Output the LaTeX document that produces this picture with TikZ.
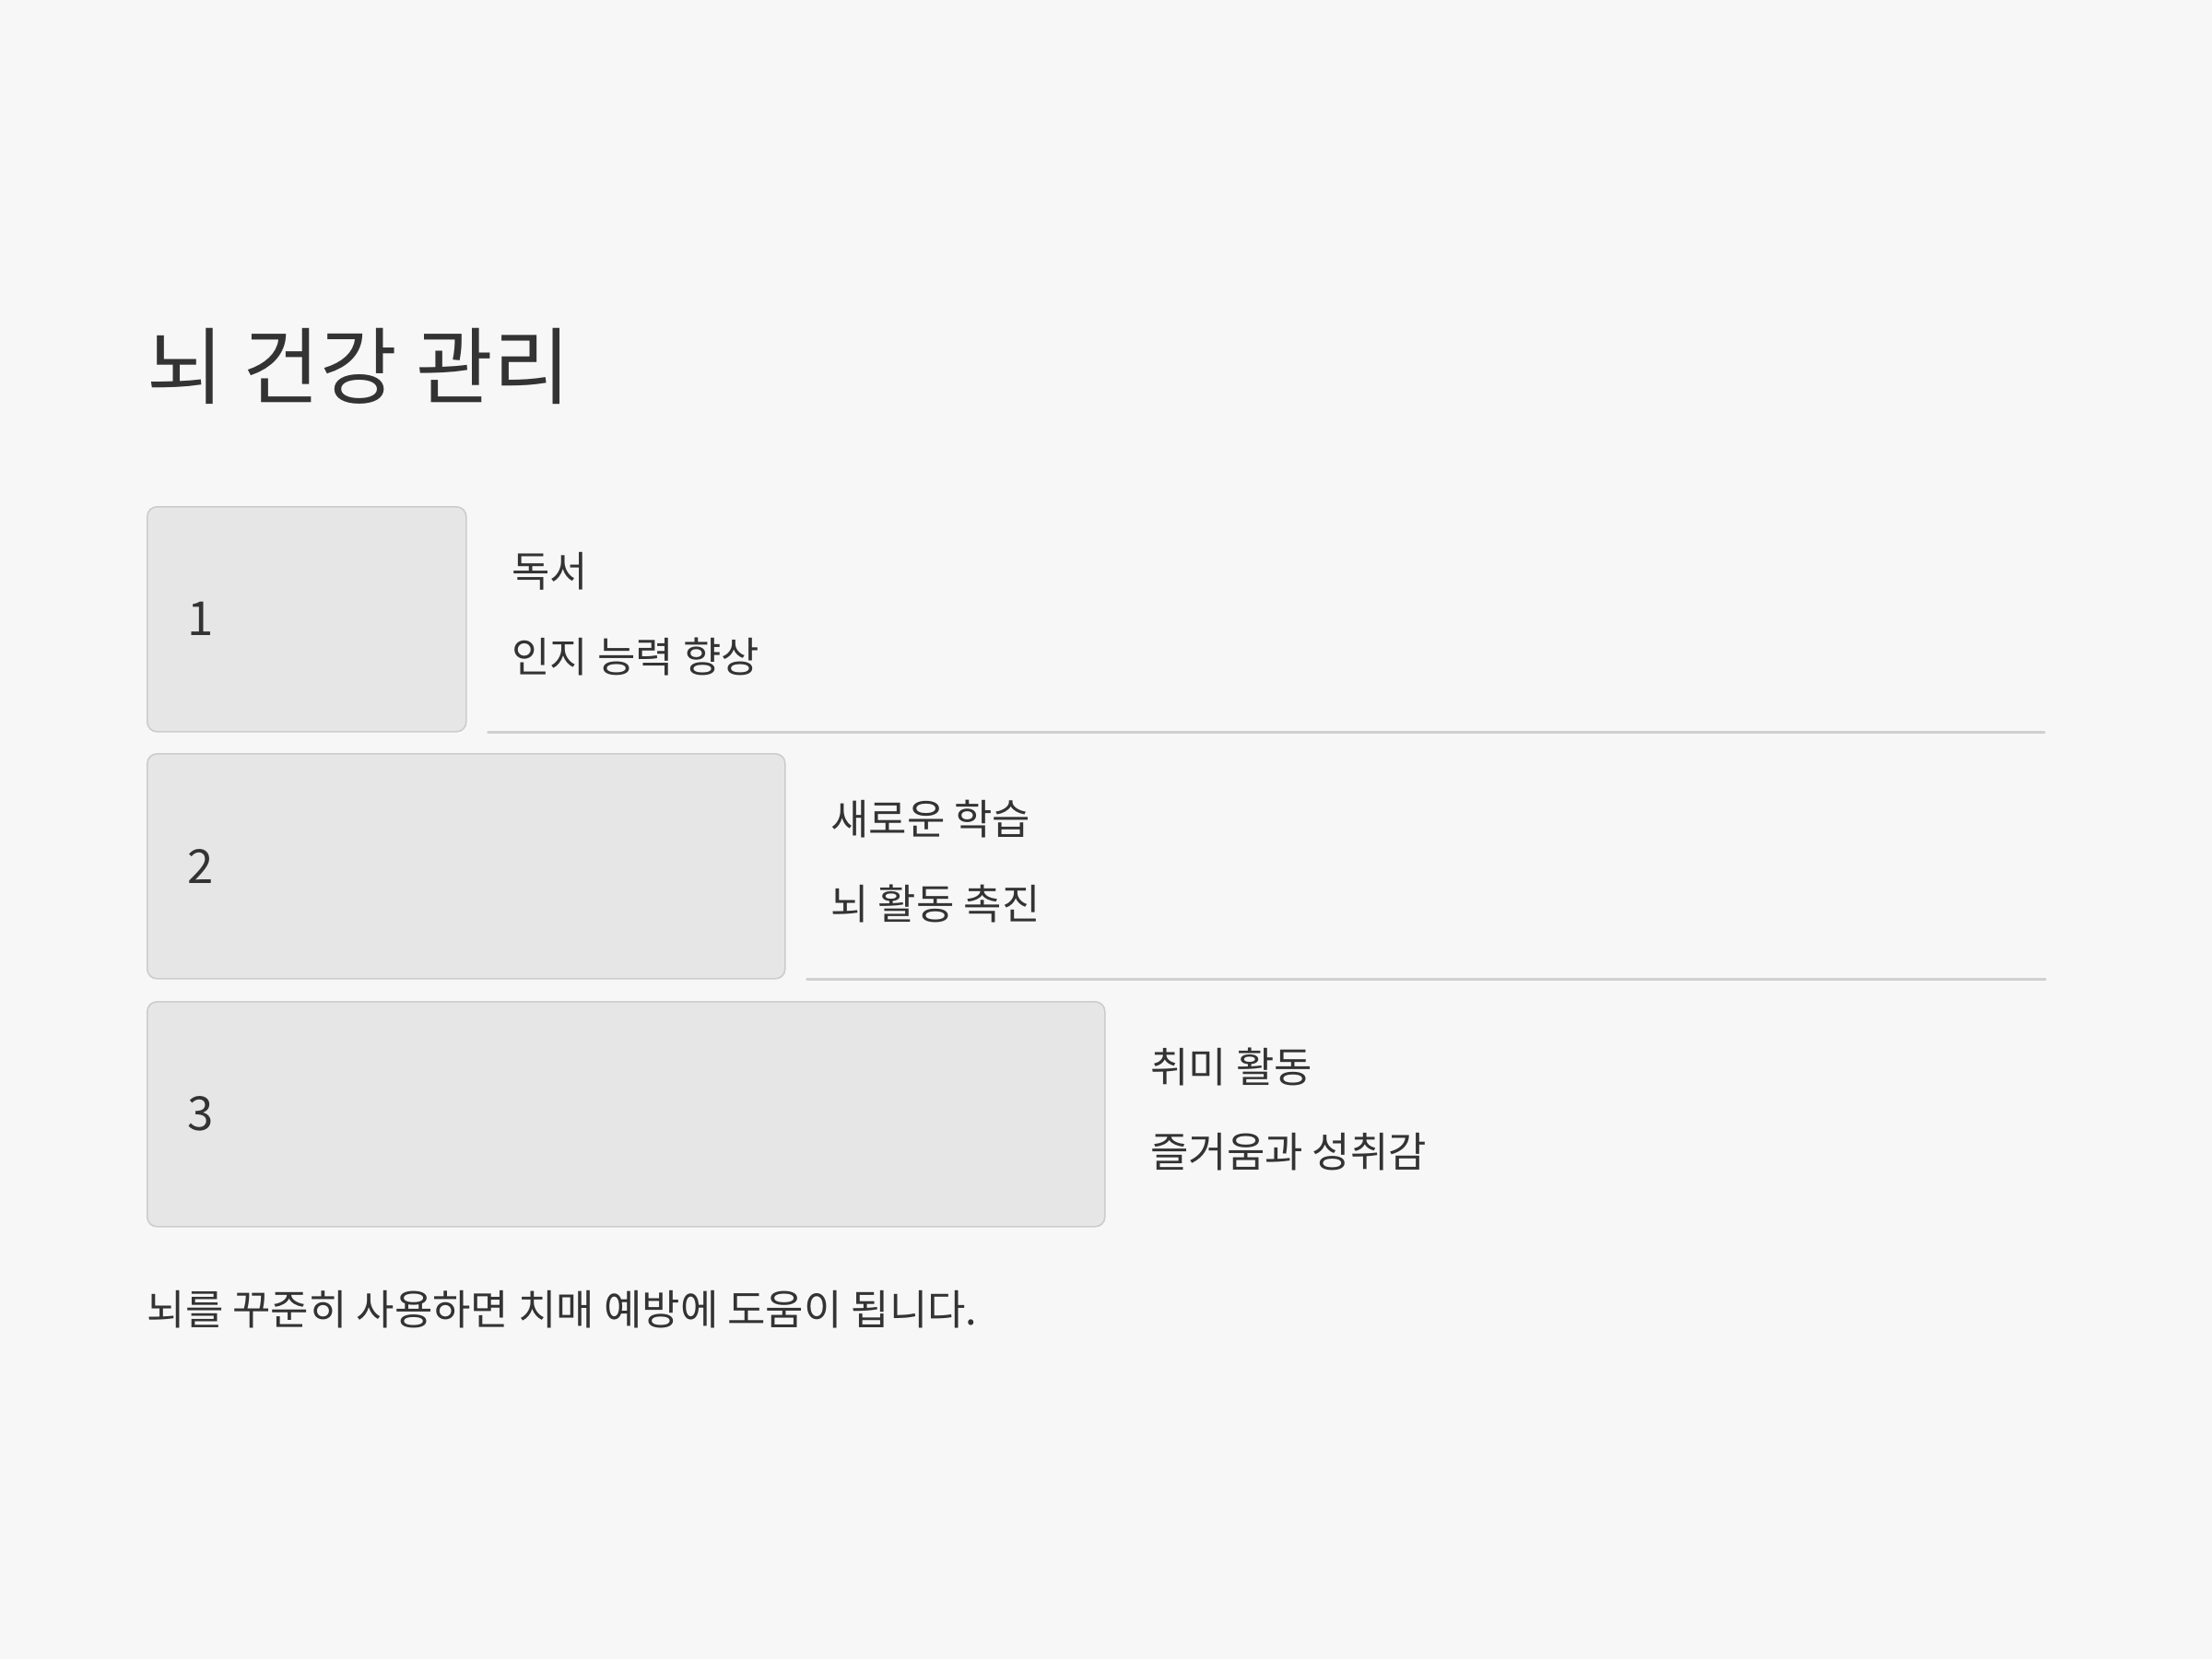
\documentclass[tikz,border=0pt]{standalone}
\usepackage{fontspec}
\setmainfont{Noto Sans CJK KR}
\usepackage{tikz}
\usetikzlibrary{calc}
\definecolor{ink}{HTML}{333333}
\definecolor{paper}{HTML}{F7F7F7}
\definecolor{cardfill}{HTML}{E6E6E6}
\definecolor{cardline}{HTML}{CCCCCC}
\definecolor{ruleline}{HTML}{D0D0D0}
\newcommand{\fs}[1]{\fontsize{#1}{1.2\dimexpr #1pt\relax}\selectfont}

\begin{document}
\begin{tikzpicture}[
    card/.style={draw=cardline,fill=cardfill,line width=0.45pt,rounded corners=3pt,
      anchor=north west,minimum height=2.44cm,inner sep=0pt},
    num/.style={anchor=west,inner sep=0pt,text=ink,font=\fs{14.5}},
    itemhead/.style={anchor=west,inner sep=0pt,text=ink,font=\fs{12.8}},
    itemsub/.style={anchor=west,inner sep=0pt,text=ink,font=\fs{12.8}},
    sepline/.style={draw=ruleline,line width=0.85pt,line cap=round}]
    \fill[paper] (0,0) rectangle (24,-18);
    \useasboundingbox (0,0) rectangle (24,-18);
    \node[anchor=west,inner sep=0pt,text=ink,font=\fs{25.9}] (T) at (1.59,-3.97) {뇌 건강 관리};
    \node[card,minimum width=3.46cm] (B1) at (1.59,-5.49) {};
    \node[card,minimum width=6.92cm] (B2) at (1.59,-8.17) {};
    \node[card,minimum width=10.39cm] (B3) at (1.59,-10.86) {};
    \node[num] (N1) at ($(B1.west)+(0.44,0)$) {1};
    \node[num] (N2) at ($(B2.west)+(0.44,0)$) {2};
    \node[num] (N3) at ($(B3.west)+(0.44,0)$) {3};
    \node[itemhead] (H1) at ($(B1.east)+(0.48,0.52)$) {독서};
    \node[itemsub] (S1) at ($(B1.east)+(0.48,-0.41)$) {인지 능력 향상};
    \node[itemhead] (H2) at ($(B2.east)+(0.48,0.51)$) {새로운 학습};
    \node[itemsub] (S2) at ($(B2.east)+(0.48,-0.41)$) {뇌 활동 촉진};
    \node[itemhead] (H3) at ($(B3.east)+(0.48,0.51)$) {취미 활동};
    \node[itemsub] (S3) at ($(B3.east)+(0.48,-0.41)$) {즐거움과 성취감};
    \coordinate (E1) at (22.18,-7.93);
    \coordinate (E2) at (22.19,-10.62);
    \draw[sepline] ($(B1.south east)+(0.23,0)$) -- (E1 |- B1.south);
    \draw[sepline] ($(B2.south east)+(0.23,0)$) -- (E2 |- B2.south);
    \node[anchor=west,inner sep=0pt,text=ink,font=\fs{12.8}] (F) at (1.59,-14.21) {뇌를 꾸준히 사용하면 치매 예방에 도움이 됩니다.};
\end{tikzpicture}
\end{document}
